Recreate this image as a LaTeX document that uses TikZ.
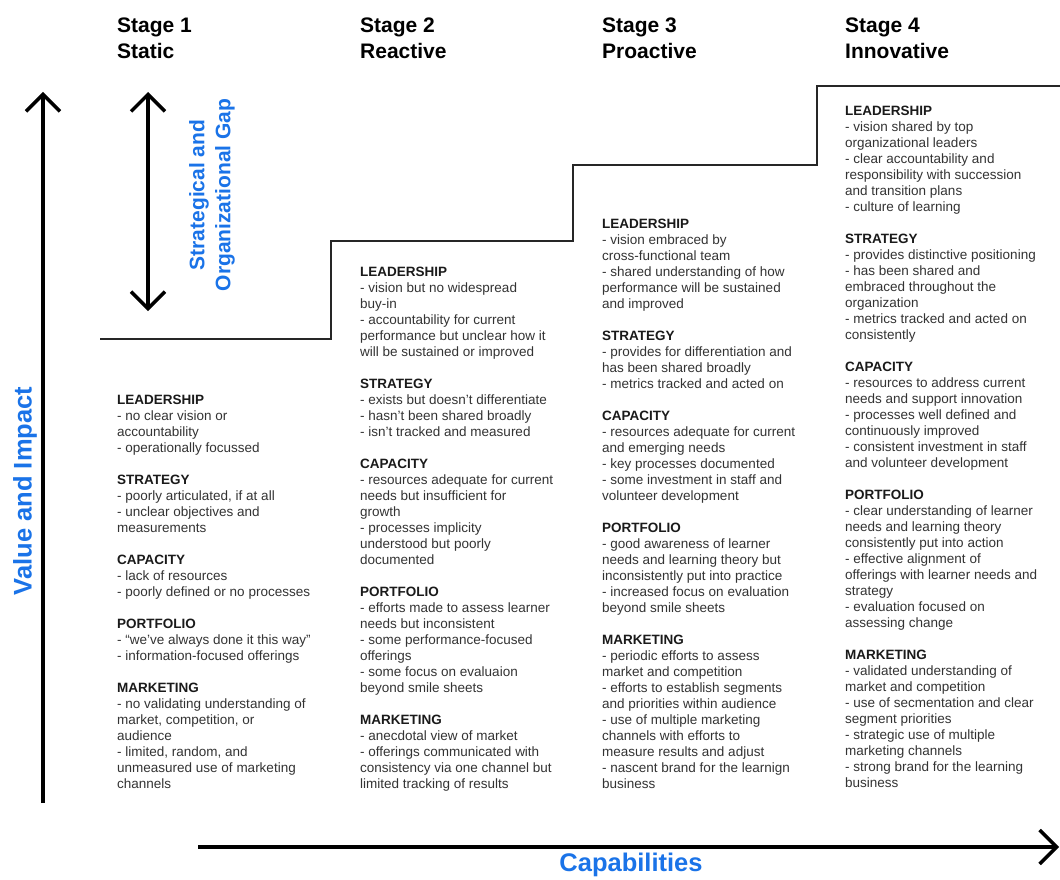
\documentclass[tikz,border=0pt]{standalone}
\usepackage{fontspec}
\setmainfont{Liberation Sans}
\usetikzlibrary{arrows.meta}
\definecolor{gblue}{HTML}{1A73E8}
\definecolor{bodyc}{HTML}{333333}
\definecolor{headc}{HTML}{1A1A1A}
\newcommand{\hd}[1]{\textbf{\color{headc}#1}}
\begin{document}
\begin{tikzpicture}[x=1pt,y=-1pt,
  axisline/.style={line width=3.5pt, draw=black, -{Straight Barb[length=17pt,width=34pt]}},
  gapline/.style={line width=3.5pt, draw=black, {Straight Barb[length=17pt,width=34pt]}-{Straight Barb[length=17pt,width=34pt]}},
  stair/.style={line width=1.4pt, draw=black!85},
  col/.style={inner sep=0pt, anchor=base west, text=bodyc, font=\fontsize{13.5}{16}\selectfont},
  stagetitle/.style={inner sep=0pt, anchor=base west, text=black, font=\fontsize{21}{26}\selectfont\bfseries},
  bluelabel/.style={inner sep=0pt, text=gblue, font=\fontsize{25.5}{30}\selectfont\bfseries},
  gaplabel/.style={inner sep=0pt, text=gblue, align=center, font=\fontsize{21}{26}\selectfont\bfseries}]
\useasboundingbox (0,0) rectangle (1060,880);
\fill[white] (0,0) rectangle (1060,880);

% axes
\coordinate (yb) at (43,803);
\coordinate (yt) at (43,92);
\coordinate (xl) at (198,847);
\coordinate (xr) at (1059,847);
\coordinate (gt) at (148,92);
\coordinate (gb) at (148,311);
\draw[axisline] (yb) -- (yt);
\draw[axisline] (xl) -- (xr);
\draw[gapline] (gb) -- (gt);

\node[bluelabel, rotate=90] (vi) at (25,491) {Value and Impact};
\node[bluelabel] (cap) at (631,865) {Capabilities};
\node[gaplabel, rotate=90] (gap) at (212,195) {Strategical and\\Organizational Gap};

% staircase
\coordinate (p0) at (100,339);
\coordinate (p1) at (331,339);
\coordinate (p2) at (331,241);
\coordinate (p3) at (573,241);
\coordinate (p4) at (573,165);
\coordinate (p5) at (817,165);
\coordinate (p6) at (817,86);
\coordinate (p7) at (1060,86);
\draw[stair] (p0) -- (p1) -- (p2) -- (p3) -- (p4) -- (p5) -- (p6) -- (p7);

% stage titles
\node[stagetitle] (s1) at (117,33) {\begin{tabular}[t]{@{}l@{}}Stage 1\\Static\end{tabular}};
\node[stagetitle] (s2) at (360,33) {\begin{tabular}[t]{@{}l@{}}Stage 2\\Reactive\end{tabular}};
\node[stagetitle] (s3) at (602,33) {\begin{tabular}[t]{@{}l@{}}Stage 3\\Proactive\end{tabular}};
\node[stagetitle] (s4) at (845,33) {\begin{tabular}[t]{@{}l@{}}Stage 4\\Innovative\end{tabular}};

% column 1
\node[col] (c1) at (117,404) {\begin{tabular}[t]{@{}l@{}}
\hd{LEADERSHIP}\\
- no clear vision or\\
accountability\\
- operationally focussed\\
\\
\hd{STRATEGY}\\
- poorly articulated, if at all\\
- unclear objectives and\\
measurements\\
\\
\hd{CAPACITY}\\
- lack of resources\\
- poorly defined or no processes\\
\\
\hd{PORTFOLIO}\\
- “we’ve always done it this way”\\
- information-focused offerings\\
\\
\hd{MARKETING}\\
- no validating understanding of\\
market, competition, or\\
audience\\
- limited, random, and\\
unmeasured use of marketing\\
channels
\end{tabular}};

% column 2
\node[col] (c2) at (360,276) {\begin{tabular}[t]{@{}l@{}}
\hd{LEADERSHIP}\\
- vision but no widespread\\
buy-in\\
- accountability for current\\
performance but unclear how it\\
will be sustained or improved\\
\\
\hd{STRATEGY}\\
- exists but doesn’t differentiate\\
- hasn’t been shared broadly\\
- isn’t tracked and measured\\
\\
\hd{CAPACITY}\\
- resources adequate for current\\
needs but insufficient for\\
growth\\
- processes implicity\\
understood but poorly\\
documented\\
\\
\hd{PORTFOLIO}\\
- efforts made to assess learner\\
needs but inconsistent\\
- some performance-focused\\
offerings\\
- some focus on evaluaion\\
beyond smile sheets\\
\\
\hd{MARKETING}\\
- anecdotal view of market\\
- offerings communicated with\\
consistency via one channel but\\
limited tracking of results
\end{tabular}};

% column 3
\node[col] (c3) at (602,228) {\begin{tabular}[t]{@{}l@{}}
\hd{LEADERSHIP}\\
- vision embraced by\\
cross-functional team\\
- shared understanding of how\\
performance will be sustained\\
and improved\\
\\
\hd{STRATEGY}\\
- provides for differentiation and\\
has been shared broadly\\
- metrics tracked and acted on\\
\\
\hd{CAPACITY}\\
- resources adequate for current\\
and emerging needs\\
- key processes documented\\
- some investment in staff and\\
volunteer development\\
\\
\hd{PORTFOLIO}\\
- good awareness of learner\\
needs and learning theory but\\
inconsistently put into practice\\
- increased focus on evaluation\\
beyond smile sheets\\
\\
\hd{MARKETING}\\
- periodic efforts to assess\\
market and competition\\
- efforts to establish segments\\
and priorities within audience\\
- use of multiple marketing\\
channels with efforts to\\
measure results and adjust\\
- nascent brand for the learnign\\
business
\end{tabular}};

% column 4
\node[col] (c4) at (845,116) {\begin{tabular}[t]{@{}l@{}}
\hd{LEADERSHIP}\\
- vision shared by top\\
organizational leaders\\
- clear accountability and\\
responsibility with succession\\
and transition plans\\
- culture of learning\\
\\
\hd{STRATEGY}\\
- provides distinctive positioning\\
- has been shared and\\
embraced throughout the\\
organization\\
- metrics tracked and acted on\\
consistently\\
\\
\hd{CAPACITY}\\
- resources to address current\\
needs and support innovation\\
- processes well defined and\\
continuously improved\\
- consistent investment in staff\\
and volunteer development\\
\\
\hd{PORTFOLIO}\\
- clear understanding of learner\\
needs and learning theory\\
consistently put into action\\
- effective alignment of\\
offerings with learner needs and\\
strategy\\
- evaluation focused on\\
assessing change\\
\\
\hd{MARKETING}\\
- validated understanding of\\
market and competition\\
- use of secmentation and clear\\
segment priorities\\
- strategic use of multiple\\
marketing channels\\
- strong brand for the learning\\
business
\end{tabular}};
\end{tikzpicture}
\end{document}
